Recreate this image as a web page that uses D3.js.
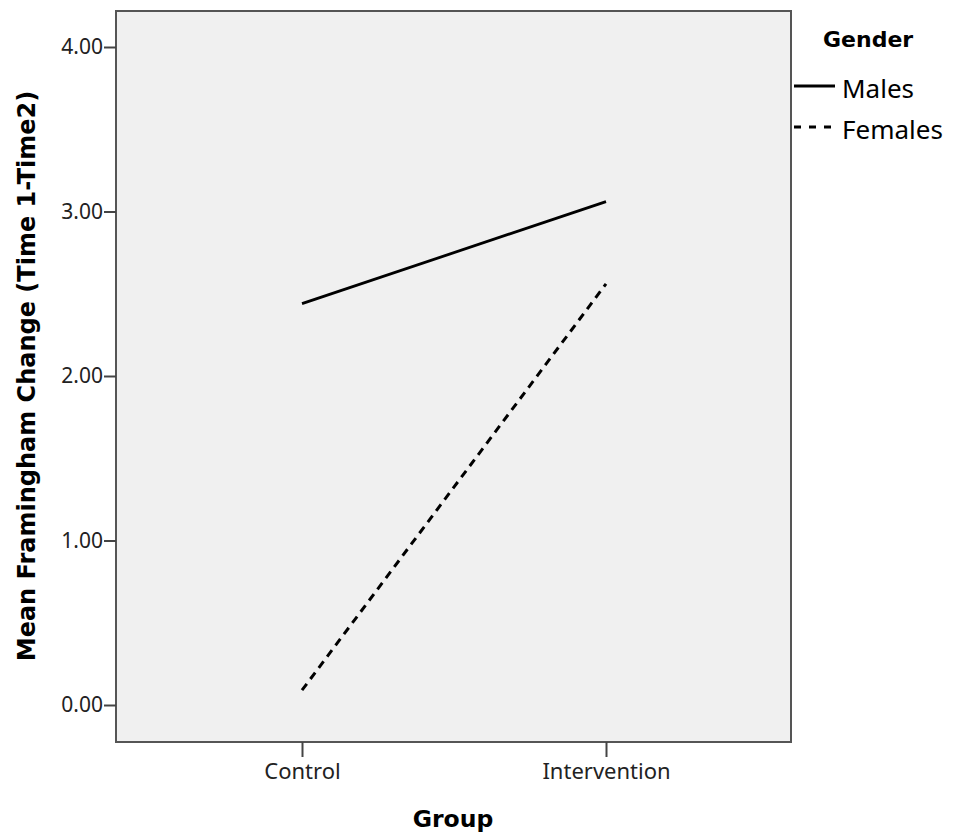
<!DOCTYPE html>
<html>
<head>
<meta charset="utf-8">
<script src="https://cdn.jsdelivr.net/npm/d3@7"></script>
<style>
  body { margin: 0; background: #fff; }
  svg text { font-family: "Noto Sans", sans-serif; }
  svg text.title { font-family: "DejaVu Sans", sans-serif; font-weight: bold; }
</style>
</head>
<body>
<div id="chart"></div>
<script>
// data
var groups = ["Control", "Intervention"];
var males = [2.44, 3.06];
var females = [0.09, 2.56];
var yTicks = [0, 1, 2, 3, 4];
var seriesNames = ["Males", "Females"];

var W = 953, H = 834;
var margin = {top: 11, right: 162, bottom: 92, left: 116};
var width = W - margin.left - margin.right;
var height = H - margin.top - margin.bottom;

var svg = d3.select("#chart").append("svg")
    .attr("width", W)
    .attr("height", H);

var g = svg.append("g")
    .attr("transform", "translate(" + margin.left + "," + margin.top + ")");

// x is a point scale over the two groups
var x = d3.scalePoint()
    .domain(groups)
    .range([186, 490]);

var y = d3.scaleLinear()
    .domain([0, 4])
    .range([694, 36]);

// plot background
g.append("rect")
    .attr("width", width)
    .attr("height", height)
    .attr("fill", "#f0f0f0");

// lines
var line = d3.line()
    .x(function (d, i) { return x(groups[i]); })
    .y(function (d) { return y(d); });

g.append("path")
    .datum(males)
    .attr("d", line)
    .attr("fill", "none")
    .attr("stroke", "#000")
    .attr("stroke-width", 2.8);

g.append("path")
    .datum(females)
    .attr("d", line)
    .attr("fill", "none")
    .attr("stroke", "#000")
    .attr("stroke-width", 3)
    .attr("stroke-dasharray", "8,6");

// frame
g.append("rect")
    .attr("width", width)
    .attr("height", height)
    .attr("fill", "none")
    .attr("stroke", "#555")
    .attr("stroke-width", 2);

// axes
var yAxis = d3.axisLeft(y)
    .tickValues(yTicks)
    .tickFormat(d3.format(".2f"))
    .tickSize(12)
    .tickPadding(1);

var yg = g.append("g").call(yAxis)
    .attr("font-size", 21)
    .attr("font-family", null);
yg.select(".domain").remove();
yg.selectAll(".tick line").attr("stroke", "#444").attr("stroke-width", 2);
yg.selectAll(".tick text").attr("fill", "#222");

var xAxis = d3.axisBottom(x)
    .tickSize(15)
    .tickPadding(6);

var xg = g.append("g")
    .attr("transform", "translate(0," + height + ")")
    .call(xAxis)
    .attr("font-size", 22)
    .attr("font-family", null);
xg.select(".domain").remove();
xg.selectAll(".tick line").attr("stroke", "#444").attr("stroke-width", 2);
xg.selectAll(".tick text").attr("fill", "#222");

// axis titles
svg.append("text")
    .attr("class", "title")
    .attr("transform", "translate(35,376) rotate(-90)")
    .attr("text-anchor", "middle")
    .attr("font-size", 24)
    .text("Mean Framingham Change (Time 1-Time2)");

svg.append("text")
    .attr("class", "title")
    .attr("x", 453)
    .attr("y", 827)
    .attr("text-anchor", "middle")
    .attr("font-size", 23.5)
    .text("Group");

// legend
var legend = svg.append("g")
    .attr("transform", "translate(794,0)");

legend.append("text")
    .attr("class", "title")
    .attr("x", 29)
    .attr("y", 47)
    .attr("font-size", 22)
    .text("Gender");

var item = legend.selectAll(".item")
    .data(seriesNames)
    .enter().append("g")
    .attr("class", "item")
    .attr("transform", function (d, i) { return "translate(0," + (86 + i * 41) + ")"; });

item.append("line")
    .attr("x1", 0)
    .attr("x2", function (d, i) { return i === 1 ? 43 : 41; })
    .attr("stroke", "#000")
    .attr("stroke-width", 3)
    .attr("stroke-dasharray", function (d, i) { return i === 1 ? "7,8" : null; });

item.append("text")
    .attr("x", 48)
    .attr("y", 12)
    .attr("font-size", 26)
    .attr("fill", "#000")
    .text(function (d) { return d; });
</script>
</body>
</html>
